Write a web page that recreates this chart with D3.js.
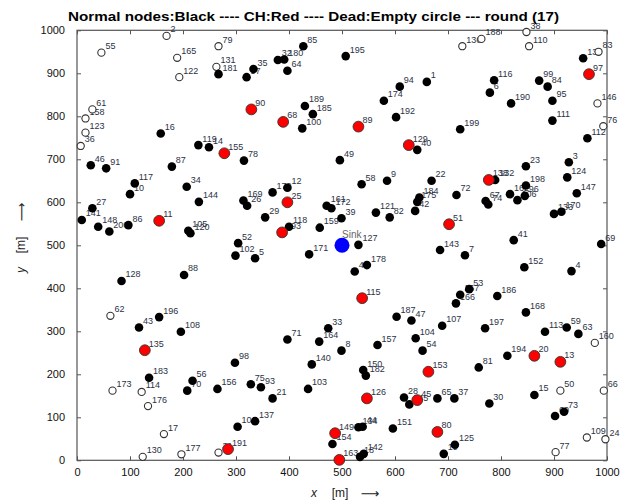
<!DOCTYPE html>
<html><head><meta charset="utf-8">
<script src="https://cdn.jsdelivr.net/npm/d3@7/dist/d3.min.js"></script>
<style>
body{margin:0;background:#fff;}
svg{display:block;font-family:"Liberation Sans",Arial,sans-serif;}
</style></head>
<body><svg id="c" width="632" height="504"></svg>
<script>
const titleText = "Normal nodes:Black ---- CH:Red ---- Dead:Empty circle --- round (17)";
const xTicks = [0,100,200,300,400,500,600,700,800,900,1000];
const yTicks = [0,100,200,300,400,500,600,700,800,900,1000];
const sink = {id:"Sink", x:500, y:500};

// normal nodes [label, x, y]
const normalNodes = [
["16",158,760],["46",26,686],["91",55,679],["87",179,683],["119",229,733],
["181",267,898],["35",333,910],["57",320,891],["85",427,963],["32",379,931],["180",391,932],
["64",397,906],["189",430,824],["185",445,805],["100",425,772],["14",249,728],["78",315,697],
["195",507,940],["94",609,869],["1",660,880],["174",579,836],["192",602,798],["199",723,770],
["40",642,722],["49",496,698],["139",955,935],["116",787,884],["6",779,855],["99",872,883],
["84",888,869],["190",819,830],["95",897,836],["111",897,790],["112",963,749],["23",847,684],
["3",928,693],["124",925,658],["117",109,644],["10",100,619],["34",207,636],["144",230,601],
["27",29,586],["141",9,559],["148",40,543],["200",61,532],["86",97,547],["105",210,534],
["120",214,528],["88",202,431],["128",84,417],["196",155,333],["12",397,634],["179",369,623],
["169",314,604],["26",321,592],["29",355,565],["118",400,543],["52",304,505],["102",299,476],
["5",336,470],["171",438,479],["159",458,541],["161",471,592],["172",480,586],["39",499,563],
["127",531,501],["58",537,642],["9",585,650],["22",669,650],["184",646,611],["175",642,601],
["42",638,580],["121",564,576],["82",590,565],["72",716,617],["143",685,489],["7",732,477],
["178",547,454],["48",524,439],["53",740,398],["167",723,385],["166",715,365],["187",603,334],
["47",631,325],["107",689,313],["132",789,652],["67",771,603],["74",776,595],["198",847,639],
["162",817,619],["96",845,615],["106",831,605],["147",943,621],["133",900,573],["170",914,578],
["41",824,512],["69",989,503],["152",844,449],["4",933,440],["186",793,382],["168",847,344],
["43",117,309],["108",196,299],["183",136,192],["56",218,185],["70",208,162],
["71",397,281],["33",474,307],["164",457,276],["98",298,227],["140",443,223],["156",265,166],
["75",328,177],["93",347,170],["21",369,144],["103",436,166],["101",303,78],["137",336,91],
["8",499,255],["157",567,268],["104",639,284],["54",652,255],["150",540,210],["182",545,197],
["28",617,146],["145",627,130],["65",680,144],["37",712,144],["134",531,77],["44",539,78],
["154",482,38],["151",596,74],["125",713,36],["19",692,15],["18",534,8],["142",541,15],
["197",770,307],["113",883,299],["59",924,309],["63",946,294],["194",812,243],["81",758,216],
["15",863,152],["30",778,132],["73",919,113],["60",902,103]
];

// cluster heads [label, x, y]
const clusterHeads = [
["90",329,816],["68",389,787],["155",278,714],["89",531,776],["129",626,733],["97",966,898],
["11",155,557],["25",397,600],["193",387,530],["51",702,549],["115",538,377],["138",777,652],
["135",128,256],["191",285,26],["153",663,206],["126",547,144],["45",642,140],["149",487,63],
["80",680,66],["163",495,1],["20",863,243],["13",912,229]
];

// dead nodes [label, x, y]
const deadNodes = [
["2",169,987],["55",46,948],["165",189,936],["122",193,891],["61",29,816],["158",16,795],
["123",16,762],["36",7,731],["79",267,963],["131",263,915],["136",727,963],["188",763,980],
["38",848,996],["110",853,963],["83",984,950],["146",982,830],["76",993,777],["62",63,336],
["173",67,162],["114",122,159],["176",134,126],["17",164,61],["130",124,8],["177",197,14],
["31",267,18],["160",977,273],["50",912,162],["66",994,162],["109",962,53],["24",997,49],
["77",903,19]
];

const svg = d3.select("#c");
const x = d3.scaleLinear().domain([0,1000]).range([77,607]);
const y = d3.scaleLinear().domain([0,1000]).range([460.3,30.3]);
const axisColor = "#555";

// title
svg.append("text").attr("x",68).attr("y",21)
  .attr("font-weight","bold").attr("font-size",13).attr("fill","#000")
  .attr("textLength",491).attr("lengthAdjust","spacingAndGlyphs").text(titleText);

function styleAxis(g){
  g.select(".domain").remove();
  g.selectAll(".tick line").attr("stroke",axisColor).attr("stroke-width",1);
  g.selectAll(".tick text").attr("fill","#111").attr("font-size",11)
    .attr("font-family","Liberation Sans, Arial, sans-serif");
}
svg.append("g").attr("transform",`translate(0,${y(0)})`)
  .call(d3.axisBottom(x).tickValues(xTicks).tickSize(-4).tickPadding(8).tickFormat(d3.format("d")))
  .call(styleAxis);
svg.append("g").attr("transform",`translate(0,${y(1000)})`)
  .call(d3.axisTop(x).tickValues(xTicks).tickSize(-4).tickFormat(""))
  .call(styleAxis);
svg.append("g").attr("transform",`translate(${x(0)},0)`)
  .call(d3.axisLeft(y).tickValues(yTicks).tickSize(-4).tickPadding(12).tickFormat(d3.format("d")))
  .call(styleAxis);
svg.append("g").attr("transform",`translate(${x(1000)},0)`)
  .call(d3.axisRight(y).tickValues(yTicks).tickSize(-4).tickFormat(""))
  .call(styleAxis);

// frame
svg.append("rect").attr("x",x(0)).attr("y",y(1000)).attr("width",x(1000)-x(0)).attr("height",y(0)-y(1000))
  .attr("fill","none").attr("stroke",axisColor).attr("stroke-width",1.2);

// axis labels
const xl = svg.append("g").attr("font-size",12).attr("fill","#222");
xl.append("text").attr("x",314).attr("y",497).attr("text-anchor","middle").attr("font-style","italic").text("x");
xl.append("text").attr("x",340).attr("y",497).attr("text-anchor","middle").text("[m]");
xl.append("text").attr("x",370).attr("y",498).attr("text-anchor","middle")
  .attr("font-family","DejaVu Sans").attr("font-size",13).text("⟶");
const yl = svg.append("g").attr("font-size",12).attr("fill","#222");
[["y",270,true,12,25,null],["[m]",245,false,12,25,null],["⟶",212,false,13,26,"DejaVu Sans"]].forEach(([t,py,it,fs,px,ff])=>{
  const tx = yl.append("text").attr("transform",`translate(${px},${py}) rotate(-90)`).attr("text-anchor","middle")
    .attr("font-size",fs).attr("font-style",it?"italic":"normal").text(t);
  if(ff) tx.attr("font-family",ff);
});

const labelColor = "#2b3245";
const all = [
  ...normalNodes.map(d=>({id:d[0],x:d[1],y:d[2],t:"n"})),
  ...clusterHeads.map(d=>({id:d[0],x:d[1],y:d[2],t:"c"})),
  ...deadNodes.map(d=>({id:d[0],x:d[1],y:d[2],t:"d"}))
];

// labels first
svg.append("g").selectAll("text").data(all).join("text")
  .attr("x",d=>x(d.x)+4).attr("y",d=>y(d.y)-3.5)
  .attr("font-size",9).attr("fill",labelColor).text(d=>d.id);
svg.append("text").attr("x",x(sink.x)).attr("y",y(sink.y)-7).attr("font-size",10).attr("fill","#666").text(sink.id);

// markers
const mk = svg.append("g");
mk.selectAll("circle.d").data(all.filter(d=>d.t==="d")).join("circle")
  .attr("cx",d=>x(d.x)).attr("cy",d=>y(d.y)).attr("r",3.6)
  .attr("fill","#fff").attr("stroke","#333").attr("stroke-width",1.1);
mk.selectAll("circle.n").data(all.filter(d=>d.t==="n")).join("circle")
  .attr("cx",d=>x(d.x)).attr("cy",d=>y(d.y)).attr("r",4.3).attr("fill","#000");
mk.selectAll("circle.c").data(all.filter(d=>d.t==="c")).join("circle")
  .attr("cx",d=>x(d.x)).attr("cy",d=>y(d.y)).attr("r",5.4)
  .attr("fill","#f00").attr("stroke","#333").attr("stroke-width",0.9);
mk.append("circle").attr("cx",x(sink.x)).attr("cy",y(sink.y)).attr("r",7.5).attr("fill","#0000ff");
</script></body></html>
